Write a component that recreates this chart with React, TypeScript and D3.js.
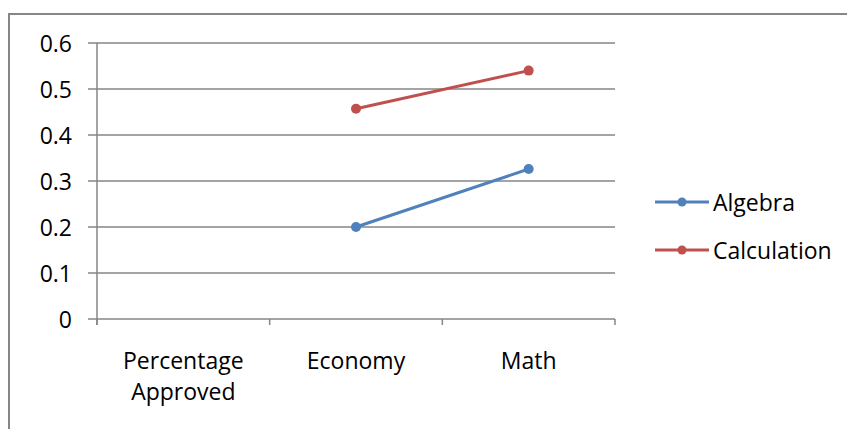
import React from "react";
import * as d3 from "d3";

// Chart data
const categories: string[][] = [["Percentage", "Approved"], ["Economy"], ["Math"]];
const seriesNames = ["Algebra", "Calculation"];
const algebra: (number | null)[] = [null, 0.2, 0.326];
const calculation: (number | null)[] = [null, 0.457, 0.54];
const yTicks = [0, 0.1, 0.2, 0.3, 0.4, 0.5, 0.6];
const colors = ["#4F81BD", "#C0504D"];

const W = 847;
const H = 429;
const plot = { left: 97, right: 615, top: 43, bottom: 319 };
const FONT = "'Open Sans', sans-serif";
const GRID = "#868686";

export default function App() {
  const x = d3
    .scaleBand<number>()
    .domain(categories.map((_, i) => i))
    .range([plot.left, plot.right])
    .padding(0);
  const y = d3.scaleLinear().domain([0, 0.6]).range([plot.bottom, plot.top]);

  const line = d3
    .line<number | null>()
    .defined((d) => d != null)
    .x((_, i) => (x(i) as number) + x.bandwidth() / 2)
    .y((d) => y(d as number));

  const series = [algebra, calculation];
  const boundaries = d3.range(categories.length + 1).map((i) => plot.left + i * x.bandwidth());

  return (
    <svg
      width={W}
      height={H}
      style={{ position: "absolute", left: 0, top: 0, background: "#fff" }}
    >
      {/* chart frame */}
      <path d={`M9,${H + 2}V14H${W + 2}`} fill="none" stroke={GRID} strokeWidth={2} />

      {/* horizontal gridlines and y ticks */}
      {yTicks.map((t) => (
        <g key={t}>
          <line x1={plot.left - 9} x2={plot.right} y1={y(t)} y2={y(t)} stroke={GRID} strokeWidth={1.5} />
          <text
            x={72}
            y={y(t)}
            textAnchor="end"
            dominantBaseline="central"
            fontFamily={FONT}
            fontSize={23}
            fill="#000"
          >
            {t === 0 ? "0" : d3.format(".1f")(t)}
          </text>
        </g>
      ))}

      {/* y axis */}
      <line x1={plot.left} x2={plot.left} y1={plot.top} y2={plot.bottom + 6} stroke={GRID} strokeWidth={1.5} />

      {/* x axis tick marks */}
      {boundaries.map((bx, i) => (
        <line key={i} x1={bx} x2={bx} y1={plot.bottom} y2={plot.bottom + 6} stroke={GRID} strokeWidth={1.5} />
      ))}

      {/* category labels */}
      {categories.map((lines, i) => (
        <text
          key={i}
          textAnchor="middle"
          fontFamily={FONT}
          fontSize={23}
          fill="#000"
        >
          {lines.map((l, j) => (
            <tspan key={j} x={(x(i) as number) + x.bandwidth() / 2} y={369 + j * 31}>
              {l}
            </tspan>
          ))}
        </text>
      ))}

      {/* series lines and markers */}
      {series.map((s, si) => (
        <g key={si}>
          <path d={line(s) || ""} fill="none" stroke={colors[si]} strokeWidth={3} strokeLinecap="round" />
          {s.map((v, i) =>
            v == null ? null : (
              <circle
                key={i}
                cx={(x(i) as number) + x.bandwidth() / 2}
                cy={y(v)}
                r={5}
                fill={colors[si]}
              />
            )
          )}
        </g>
      ))}

      {/* legend */}
      {seriesNames.map((name, i) => {
        const ly = 202 + i * 48;
        return (
          <g key={name}>
            <line x1={655} x2={709} y1={ly} y2={ly} stroke={colors[i]} strokeWidth={3} />
            <circle cx={682} cy={ly} r={4.5} fill={colors[i]} />
            <text
              x={713}
              y={ly}
              dominantBaseline="central"
              fontFamily={FONT}
              fontSize={23}
              fill="#000"
            >
              {name}
            </text>
          </g>
        );
      })}
    </svg>
  );
}
